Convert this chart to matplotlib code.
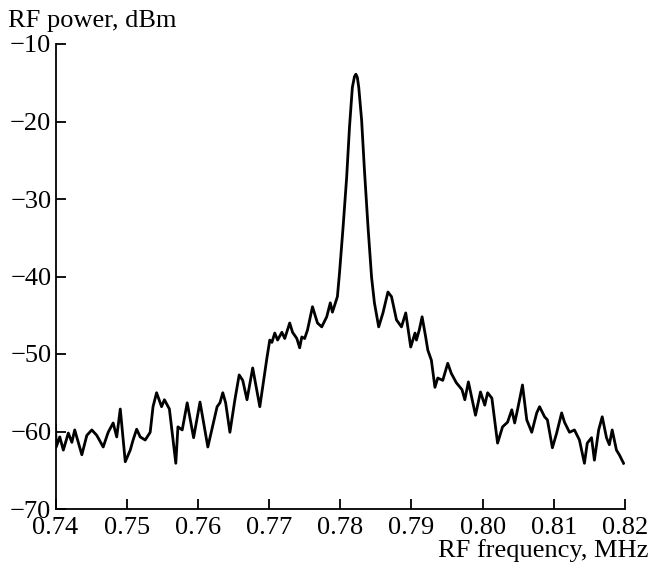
import matplotlib
matplotlib.use("Agg")
import matplotlib.pyplot as plt
from matplotlib.ticker import FormatStrFormatter

# Data (frequency in MHz, power in dBm)
freq = [0.7400, 0.7401, 0.7406, 0.7411, 0.7418, 0.7423, 0.7427, 0.7437, 0.7444,
        0.7451, 0.7458, 0.7467, 0.7474, 0.7481, 0.7486, 0.7491, 0.7498, 0.7505,
        0.7509, 0.7514, 0.7519, 0.7526, 0.7533, 0.7537, 0.7542, 0.7549, 0.7553,
        0.7560, 0.7569, 0.7572, 0.7578, 0.7585, 0.7594, 0.7603, 0.7614, 0.7627,
        0.7631, 0.7635, 0.7639, 0.7645, 0.7652, 0.7658, 0.7663, 0.7669, 0.7677,
        0.7687, 0.7697, 0.7701, 0.7704, 0.7708, 0.7712, 0.7718, 0.7722, 0.7729,
        0.7733, 0.7739, 0.7743, 0.7746, 0.7750, 0.7754, 0.7761, 0.7768, 0.7774,
        0.7781, 0.7786, 0.7789, 0.7796, 0.7799, 0.7804, 0.7809, 0.7813, 0.7817,
        0.7820, 0.7822, 0.7824, 0.7826, 0.7830, 0.7834,
        0.7839, 0.7844, 0.7848, 0.7854, 0.7860, 0.7867, 0.7872, 0.7879, 0.7886,
        0.7892, 0.7899, 0.7905, 0.7907, 0.7911, 0.7915, 0.7920, 0.7923, 0.7928,
        0.7933, 0.7937, 0.7944, 0.7951, 0.7956, 0.7963, 0.7971, 0.7975, 0.7980,
        0.7990, 0.7997, 0.8003, 0.8007, 0.8013, 0.8021, 0.8028, 0.8035, 0.8041,
        0.8045, 0.8049, 0.8056, 0.8062, 0.8069, 0.8076, 0.8080, 0.8087, 0.8091,
        0.8098, 0.8104, 0.8111, 0.8115, 0.8122, 0.8129, 0.8136, 0.8143, 0.8147,
        0.8153, 0.8157, 0.8163, 0.8168, 0.8174, 0.8178, 0.8182, 0.8188, 0.8192,
        0.8198]
power = [-59.2, -62.0, -60.7, -62.4, -60.2, -61.4, -59.8, -63.0, -60.5,
         -59.8, -60.5, -62.0, -60.1, -58.9, -60.7, -57.1, -63.9, -62.4,
         -61.1, -59.7, -60.7, -61.1, -60.1, -56.8, -55.0, -56.8, -55.9,
         -57.1, -64.1, -59.4, -59.8, -56.3, -60.8, -56.2, -62.0, -56.8,
         -56.3, -55.0, -56.3, -60.1, -55.9, -52.7, -53.4, -55.9, -51.8,
         -56.8, -50.5, -48.2, -48.5, -47.3, -48.2, -47.2, -48.0, -46.0,
         -47.2, -48.0, -49.2, -47.8, -48.0, -46.9, -43.9, -46.0, -46.5,
         -45.2, -43.4, -44.6, -42.6, -39.5, -33.6, -27.2, -20.7, -15.6,
         -14.2, -13.9, -14.3, -15.6, -19.8, -26.3,
         -33.6, -40.1, -43.4, -46.5, -44.7, -42.0, -42.6, -45.6, -46.5,
         -44.7, -49.1, -47.3, -48.2, -46.9, -45.2, -47.8, -49.5, -50.8,
         -54.3, -53.1, -53.4, -51.2, -52.5, -53.7, -54.6, -55.9, -53.6,
         -57.9, -54.9, -56.6, -55.0, -55.7, -61.5, -59.4, -58.8, -57.2,
         -58.9, -57.2, -54.0, -58.5, -60.1, -57.6, -56.8, -58.1, -58.5,
         -62.1, -60.2, -57.6, -58.8, -60.1, -59.8, -61.1, -64.1, -61.5,
         -60.8, -63.7, -59.8, -58.1, -60.8, -61.7, -59.8, -62.4, -63.0,
         -64.1]

x_ticks = [0.74, 0.75, 0.76, 0.77, 0.78, 0.79, 0.80, 0.81, 0.82]
y_ticks = [-70, -60, -50, -40, -30, -20, -10]

plt.rcParams['font.family'] = ['Liberation Serif', 'DejaVu Serif']
plt.rcParams['axes.unicode_minus'] = True

fig = plt.figure(figsize=(6.51, 5.67), dpi=100)
ax = fig.add_axes([55.5 / 651, 1 - 509 / 567, (625 - 55.5) / 651, (509 - 44) / 567])

ax.plot(freq, power, color='black', linewidth=2.0, solid_joinstyle='round')

ax.set_xlim(0.74, 0.82)
ax.set_ylim(-70, -10)
ax.set_xticks(x_ticks)
ax.set_yticks(y_ticks)
ax.xaxis.set_major_formatter(FormatStrFormatter('%.2f'))

for side in ['top', 'right']:
    ax.spines[side].set_visible(False)
for side in ['left', 'bottom']:
    ax.spines[side].set_linewidth(1.3)

ax.tick_params(axis='both', direction='in', length=7, width=1.3,
               labelsize=19, pad=3)
ax.tick_params(axis='x', pad=5.5)

fig.text(8 / 651, 1 - 27 / 567, 'RF power, dBm', fontsize=19,
         ha='left', va='baseline')
fig.text(648 / 651, 1 - 557 / 567, 'RF frequency, MHz', fontsize=19,
         ha='right', va='baseline')

fig.savefig('out.png', dpi=100)
